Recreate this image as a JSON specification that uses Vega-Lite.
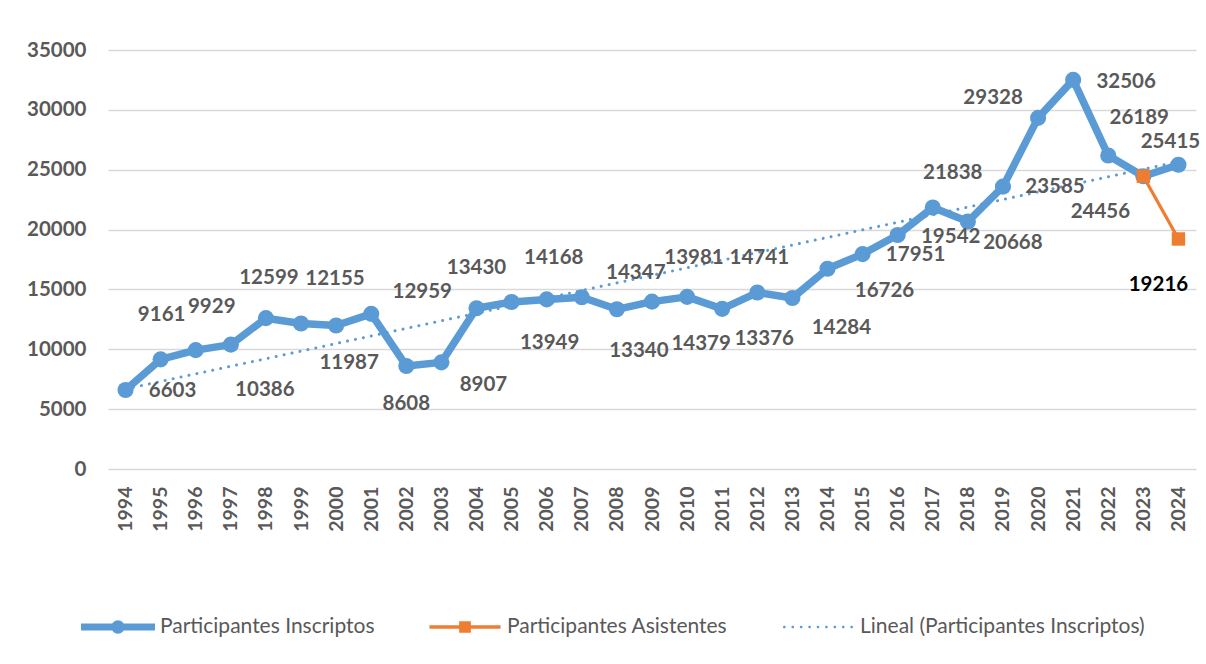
{
  "$schema": "https://vega.github.io/schema/vega-lite/v6.json",
  "autosize": {"type": "none"},
  "width": 1088,
  "height": 419,
  "padding": {"left": 108, "top": 50, "right": 10, "bottom": 195},
  "background": "white",
  "config": {
    "view": {"stroke": null},
    "font": "Lato",
    "legend": {
      "orient": "none",
      "legendX": -27,
      "legendY": 540,
      "direction": "horizontal",
      "title": null,
      "symbolSize": 5476,
      "symbolStrokeWidth": 0,
      "symbolOpacity": 1,
      "labelFont": "Lato",
      "labelFontSize": 21,
      "labelFontWeight": "normal",
      "labelColor": "#595959",
      "labelOffset": 5,
      "columnPadding": 53,
      "padding": 0,
      "labelLimit": 400
    }
  },
  "datasets": {
    "main": [
      {"year": 1994, "series": "Participantes Inscriptos", "value": 6603},
      {"year": 1995, "series": "Participantes Inscriptos", "value": 9161},
      {"year": 1996, "series": "Participantes Inscriptos", "value": 9929},
      {"year": 1997, "series": "Participantes Inscriptos", "value": 10386},
      {"year": 1998, "series": "Participantes Inscriptos", "value": 12599},
      {"year": 1999, "series": "Participantes Inscriptos", "value": 12155},
      {"year": 2000, "series": "Participantes Inscriptos", "value": 11987},
      {"year": 2001, "series": "Participantes Inscriptos", "value": 12959},
      {"year": 2002, "series": "Participantes Inscriptos", "value": 8608},
      {"year": 2003, "series": "Participantes Inscriptos", "value": 8907},
      {"year": 2004, "series": "Participantes Inscriptos", "value": 13430},
      {"year": 2005, "series": "Participantes Inscriptos", "value": 13949},
      {"year": 2006, "series": "Participantes Inscriptos", "value": 14168},
      {"year": 2007, "series": "Participantes Inscriptos", "value": 14347},
      {"year": 2008, "series": "Participantes Inscriptos", "value": 13340},
      {"year": 2009, "series": "Participantes Inscriptos", "value": 13981},
      {"year": 2010, "series": "Participantes Inscriptos", "value": 14379},
      {"year": 2011, "series": "Participantes Inscriptos", "value": 13376},
      {"year": 2012, "series": "Participantes Inscriptos", "value": 14741},
      {"year": 2013, "series": "Participantes Inscriptos", "value": 14284},
      {"year": 2014, "series": "Participantes Inscriptos", "value": 16726},
      {"year": 2015, "series": "Participantes Inscriptos", "value": 17951},
      {"year": 2016, "series": "Participantes Inscriptos", "value": 19542},
      {"year": 2017, "series": "Participantes Inscriptos", "value": 21838},
      {"year": 2018, "series": "Participantes Inscriptos", "value": 20668},
      {"year": 2019, "series": "Participantes Inscriptos", "value": 23585},
      {"year": 2020, "series": "Participantes Inscriptos", "value": 29328},
      {"year": 2021, "series": "Participantes Inscriptos", "value": 32506},
      {"year": 2022, "series": "Participantes Inscriptos", "value": 26189},
      {"year": 2023, "series": "Participantes Inscriptos", "value": 24456},
      {"year": 2024, "series": "Participantes Inscriptos", "value": 25415},
      {"year": 2023, "series": "Participantes Asistentes", "value": 24456},
      {"year": 2024, "series": "Participantes Asistentes", "value": 19216}
    ]
  },
  "data": {"name": "main"},
  "encoding": {
    "x": {
      "field": "year",
      "type": "quantitative",
      "scale": {"domain": [1993.5, 2024.5], "nice": false, "zero": false},
      "axis": {
        "title": null,
        "values": [1994,1995,1996,1997,1998,1999,2000,2001,2002,2003,2004,2005,2006,2007,2008,2009,2010,2011,2012,2013,2014,2015,2016,2017,2018,2019,2020,2021,2022,2023,2024],
        "format": "d",
        "labelAngle": -90,
        "labelFont": "Lato",
        "labelFontSize": 19.5,
        "labelFontWeight": "bold",
        "labelColor": "#595959",
        "labelPadding": 17,
        "ticks": false,
        "domain": false,
        "grid": false,
        "labelOverlap": false,
        "labelFlush": false
      }
    },
    "y": {
      "field": "value",
      "type": "quantitative",
      "scale": {"domain": [0, 35000], "nice": false},
      "axis": {
        "title": null,
        "values": [0, 5000, 10000, 15000, 20000, 25000, 30000, 35000],
        "format": "d",
        "labelFont": "Lato",
        "labelFontSize": 20.5,
        "labelFontWeight": "bold",
        "labelColor": "#595959",
        "labelPadding": 22,
        "ticks": false,
        "domain": false,
        "grid": true,
        "gridColor": "#d9d9d9",
        "gridWidth": 1.4
      }
    }
  },
  "layer": [
    {
      "transform": [
        {"filter": "datum.series === 'Participantes Inscriptos'"},
        {"regression": "value", "on": "year", "method": "linear"}
      ],
      "mark": {"type": "line", "color": "#5b9bd5", "strokeWidth": 3, "strokeDash": [0.01, 8.1], "strokeCap": "round"},
      "encoding": {}
    },
    {
      "transform": [{"filter": "datum.series === 'Participantes Inscriptos'"}],
      "mark": {"type": "line", "color": "#5b9bd5", "strokeWidth": 7.5, "strokeJoin": "round", "strokeCap": "round"},
      "encoding": {}
    },
    {
      "transform": [{"filter": "datum.series === 'Participantes Asistentes'"}],
      "mark": {"type": "line", "color": "#ed7d31", "strokeWidth": 3.25},
      "encoding": {}
    },
    {
      "transform": [{"filter": "datum.series === 'Participantes Inscriptos'"}],
      "mark": {"type": "point", "filled": true, "shape": "circle", "size": 260, "color": "#5b9bd5", "opacity": 1},
      "encoding": {}
    },
    {
      "transform": [{"filter": "datum.series === 'Participantes Asistentes'"}],
      "mark": {"type": "point", "filled": true, "shape": "square", "size": 180, "color": "#ed7d31", "opacity": 1},
      "encoding": {}
    },
    {
      "mark": {"type": "point", "filled": true, "opacity": 0},
      "encoding": {
        "color": {
          "field": "series",
          "type": "nominal",
          "scale": {
            "domain": ["Participantes Inscriptos", "Participantes Asistentes", "Lineal (Participantes Inscriptos)"],
            "range": ["#5b9bd5", "#ed7d31", "#5b9bd5"]
          }
        },
        "shape": {
          "field": "series",
          "type": "nominal",
          "scale": {
            "domain": ["Participantes Inscriptos", "Participantes Asistentes", "Lineal (Participantes Inscriptos)"],
            "range": [
              "M-1,-0.095L1,-0.095L1,0.095L-1,0.095Z M0.18,0A0.18,0.18,0,1,1,-0.18,0A0.18,0.18,0,1,1,0.18,0Z",
              "M-0.96,-0.045L0.96,-0.045L0.96,0.045L-0.96,0.045Z M-0.158,-0.158L0.158,-0.158L0.158,0.158L-0.158,0.158Z",
              "M-0.873,0A0.037,0.037,0,1,1,-0.947,0A0.037,0.037,0,1,1,-0.873,0Z M-0.6455,0A0.037,0.037,0,1,1,-0.7195,0A0.037,0.037,0,1,1,-0.6455,0Z M-0.418,0A0.037,0.037,0,1,1,-0.492,0A0.037,0.037,0,1,1,-0.418,0Z M-0.1905,0A0.037,0.037,0,1,1,-0.2645,0A0.037,0.037,0,1,1,-0.1905,0Z M0.037,0A0.037,0.037,0,1,1,-0.037,0A0.037,0.037,0,1,1,0.037,0Z M0.2645,0A0.037,0.037,0,1,1,0.1905,0A0.037,0.037,0,1,1,0.2645,0Z M0.492,0A0.037,0.037,0,1,1,0.418,0A0.037,0.037,0,1,1,0.492,0Z M0.7195,0A0.037,0.037,0,1,1,0.6455,0A0.037,0.037,0,1,1,0.7195,0Z M0.947,0A0.037,0.037,0,1,1,0.873,0A0.037,0.037,0,1,1,0.947,0Z"
            ]
          }
        }
      }
    },
    {
      "transform": [{"filter": "datum.series === 'Participantes Inscriptos'"}],
      "mark": {
        "type": "text",
        "font": "Lato",
        "fontSize": 20.5,
        "fontWeight": "bold",
        "color": "#595959",
        "align": "center",
        "baseline": "middle",
        "dx": {"expr": "[47,1,16,34,3,34,13,51,0,42,0,38,7,54,22,42,14,42,2,49,57,53,53,20,45,52,-45,53,31,-43,-8][datum.year-1994]"},
        "dy": {"expr": "[1,-44,-43,45,-40,-44,38,-22,38,23,-40,41,-41,-24,42,-44,47,30,-35,30,22,1,2,-35,21,0,-20,2,-37,36,-23][datum.year-1994]"}
      },
      "encoding": {"text": {"field": "value", "type": "quantitative", "format": "d"}}
    },
    {
      "transform": [{"filter": "datum.series === 'Participantes Asistentes' && datum.year === 2024"}],
      "mark": {
        "type": "text",
        "font": "Lato",
        "fontSize": 20.5,
        "fontWeight": "bold",
        "color": "#000000",
        "align": "center",
        "baseline": "middle",
        "dx": -20,
        "dy": 46
      },
      "encoding": {"text": {"field": "value", "type": "quantitative", "format": "d"}}
    }
  ]
}
